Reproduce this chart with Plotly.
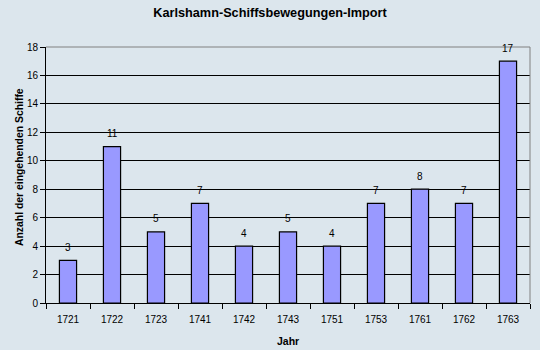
import plotly.graph_objects as go

years = ["1721", "1722", "1723", "1741", "1742", "1743", "1751", "1753", "1761", "1762", "1763"]
ships = [3, 11, 5, 7, 4, 5, 4, 7, 8, 7, 17]

bg = "#dce6ed"
FONT = "Liberation Sans, Arial"
fig = go.Figure(go.Bar(
    x=years, y=ships,
    marker=dict(color="#9999ff", line=dict(color="black", width=1.2)),
    width=0.39,
))
for i, v in enumerate(ships):
    fig.add_annotation(x=i, y=v, text=str(v), showarrow=False, yanchor="middle",
                       yshift=13, font=dict(family=FONT, size=10, color="black"))

H = 256.0
W = 484.0
fig.add_annotation(xref="paper", yref="paper", x=0.5, y=(303 - 341) / H,
                   text="<b>Jahr</b>", showarrow=False, yanchor="middle",
                   font=dict(family=FONT, size=10.5, color="black"))
fig.add_annotation(xref="paper", yref="paper", x=(19 - 46) / W, y=(303 - 167) / H,
                   text="<b>Anzahl der eingehenden Schiffe</b>", showarrow=False,
                   textangle=-90, xanchor="center", yanchor="middle",
                   font=dict(family=FONT, size=10.4, color="black"))

fig.update_layout(
    width=540, height=350, paper_bgcolor=bg, plot_bgcolor=bg,
    margin=dict(l=46, r=10, t=47, b=47),
    font=dict(family=FONT, size=10, color="black"),
    title=dict(text="<b>Karlshamn-Schiffsbewegungen-Import</b>", x=0.5, xanchor="center",
               y=1 - 13/350, yanchor="middle", font=dict(size=12.7)),
    showlegend=False,
)
fig.update_xaxes(
    type="category", tickson="boundaries", ticks="outside", ticklen=5, tickcolor="black",
    showline=True, linecolor="black", linewidth=1, ticklabelstandoff=7,
    showgrid=False, range=[-0.5, 10.5],
)
fig.update_yaxes(
    range=[0, 18], dtick=2, ticks="outside", ticklen=5, tickcolor="black",
    showline=True, linecolor="black", linewidth=1,
    showgrid=True, gridcolor="black", gridwidth=1,
    zeroline=False,
)
fig.add_shape(type="line", xref="paper", yref="paper", x0=0, x1=1, y0=1, y1=1,
              line=dict(color="#808080", width=1))
fig.add_shape(type="line", xref="paper", yref="paper", x0=1, x1=1, y0=0, y1=1,
              line=dict(color="#808080", width=1))
fig.write_html("out.html")
